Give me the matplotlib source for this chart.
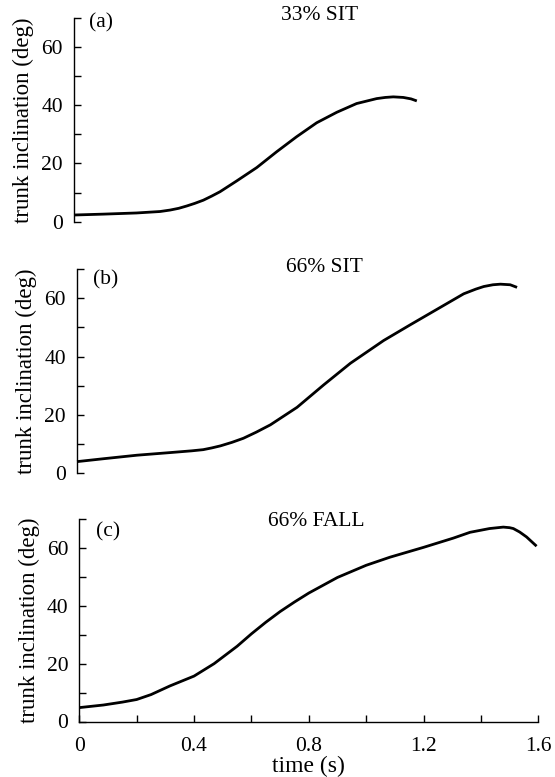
import matplotlib
matplotlib.use("Agg")
import matplotlib.pyplot as plt
from matplotlib.ticker import MultipleLocator

plt.rcParams['font.family'] = ['Liberation Serif', 'DejaVu Serif']

# ---- data (time in s, trunk inclination in deg) ----
t_a = [0.0, 0.102, 0.218, 0.30, 0.335, 0.365, 0.393, 0.421, 0.451, 0.48, 0.509,
       0.567, 0.637, 0.706, 0.776, 0.846, 0.916, 0.985, 1.055, 1.085, 1.113,
       1.148, 1.175, 1.195]
v_a = [2.3, 2.6, 3.0, 3.5, 4.0, 4.6, 5.4, 6.3, 7.4, 8.8, 10.3,
       14.0, 18.6, 24.0, 29.2, 34.0, 37.6, 40.6, 42.3, 42.7, 42.9,
       42.7, 42.2, 41.5]

t_b = [0.0, 0.093, 0.209, 0.325, 0.40, 0.44, 0.47, 0.50, 0.54, 0.58, 0.625,
       0.674, 0.767, 0.86, 0.953, 1.069, 1.162, 1.255, 1.348, 1.39, 1.418,
       1.45, 1.476, 1.51, 1.534]
v_b = [4.0, 5.0, 6.2, 7.1, 7.7, 8.1, 8.7, 9.4, 10.6, 12.0, 14.1,
       16.6, 22.6, 30.3, 37.7, 45.5, 50.9, 56.2, 61.5, 63.1, 64.0,
       64.6, 64.8, 64.6, 63.7]

t_c = [0.0, 0.084, 0.15, 0.2, 0.25, 0.316, 0.40, 0.47, 0.55, 0.60, 0.65,
       0.70, 0.75, 0.80, 0.90, 1.00, 1.083, 1.2, 1.304, 1.362, 1.43, 1.478,
       1.50, 1.513, 1.535, 1.559, 1.594]
v_c = [4.8, 5.7, 6.7, 7.6, 9.3, 12.3, 15.7, 20.0, 26.0, 30.3, 34.3,
       38.0, 41.3, 44.4, 49.8, 54.0, 56.8, 60.2, 63.4, 65.4, 66.7, 67.2,
       67.0, 66.7, 65.5, 63.8, 60.6]

titles = ["33% SIT", "66% SIT", "66% FALL"]
panel_labels = ["(a)", "(b)", "(c)"]
y_ticks = [0, 20, 40, 60]
x_ticks = [0, 0.4, 0.8, 1.2, 1.6]
x_ticklabels = ["0", "0.4", "0.8", "1.2", "1.6"]
ylabel = "trunk inclination (deg)"
xlabel = "time (s)"

W, H = 555, 777
fig = plt.figure(figsize=(W / 100, H / 100), dpi=100)

# axes placement in pixels: (left x, y of zero, y of 70)
places = [(74, 221.7, 18.0), (77, 473.3, 269.0), (79.3, 721.5, 519.0)]
xw = 459.0
title_pos = [(320, 15), (324, 268), (316, 521)]
lab_pos = [(101, 23), (106, 280), (108, 532)]

series = [(t_a, v_a), (t_b, v_b), (t_c, v_c)]
fs = 15.5
fs_lab = 16.5

for i, ((x0, y0, y70), (tt, vv)) in enumerate(zip(places, series)):
    ax = fig.add_axes([x0 / W, 1 - y0 / H, xw / W, (y0 - y70) / H])
    ax.plot(tt, vv, color='black', lw=2.0, clip_on=False,
            solid_capstyle='butt', solid_joinstyle='round')
    ax.set_xlim(0, 1.6)
    ax.set_ylim(0, 70)
    for s in ['top', 'right']:
        ax.spines[s].set_visible(False)
    ax.spines['left'].set_linewidth(1.0)
    ax.yaxis.set_minor_locator(MultipleLocator(10))
    ax.set_yticks(y_ticks)
    ax.set_yticklabels([str(v) for v in y_ticks])
    ax.tick_params(axis='y', which='both', direction='in', length=5, width=1.0,
                   labelsize=fs, pad=8)
    ax.set_ylabel(ylabel, fontsize=fs_lab, labelpad=5)
    if i < 2:
        ax.spines['bottom'].set_visible(False)
        ax.tick_params(axis='x', which='both', bottom=False, labelbottom=False)
    else:
        ax.spines['bottom'].set_linewidth(1.0)
        ax.set_xticks(x_ticks)
        ax.set_xticklabels(x_ticklabels)
        ax.xaxis.set_minor_locator(MultipleLocator(0.2))
        ax.tick_params(axis='x', which='both', direction='in', length=5, width=1.0,
                       labelsize=fs, pad=11)
        ax.set_xlabel(xlabel, fontsize=fs_lab + 0.5, labelpad=0)
    tx, ty = title_pos[i]
    fig.text(tx / W, 1 - ty / H, titles[i], ha='center', va='center', fontsize=fs)
    lx, ly = lab_pos[i]
    fig.text(lx / W, 1 - ly / H, panel_labels[i], ha='center', va='center', fontsize=fs)

fig.savefig("out.png", dpi=100)
